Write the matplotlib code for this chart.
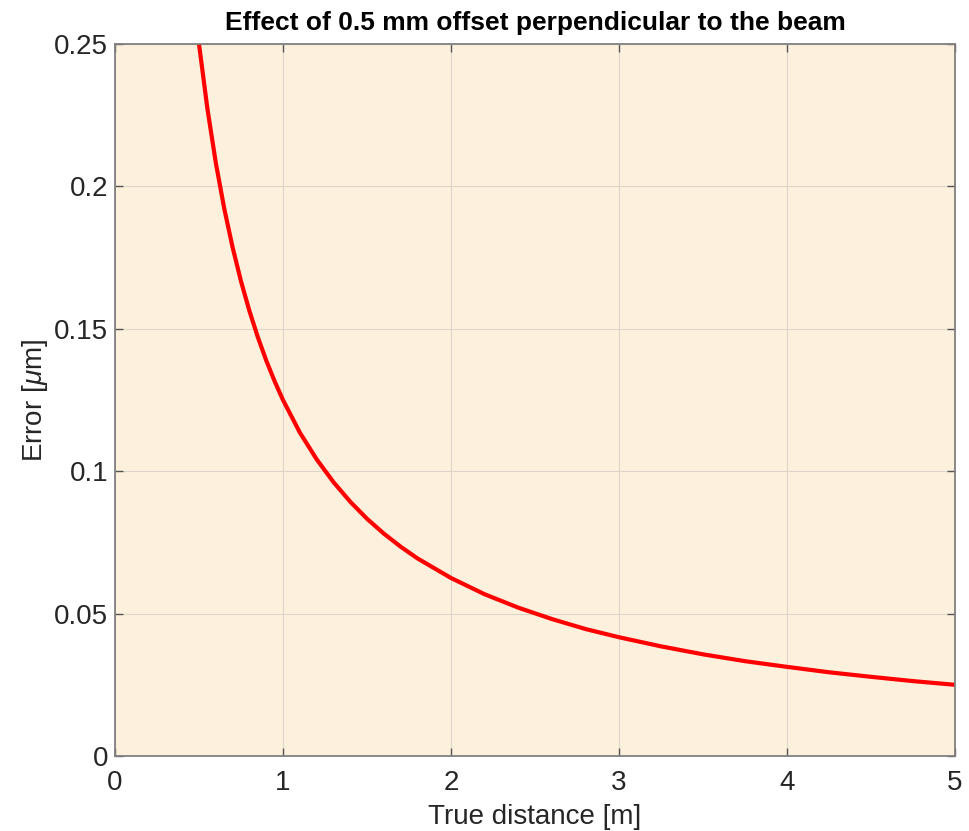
import matplotlib
matplotlib.use("Agg")
import matplotlib.pyplot as plt

plt.rcParams['font.family'] = ['Liberation Sans', 'DejaVu Sans']
plt.rcParams['mathtext.fontset'] = 'custom'
plt.rcParams['mathtext.rm'] = 'Liberation Sans'
plt.rcParams['mathtext.it'] = 'Liberation Sans:italic'

# Data
distance_m = [0.5, 0.55, 0.6, 0.65, 0.7, 0.75, 0.8, 0.85, 0.9, 0.95, 1.0,
              1.1, 1.2, 1.3, 1.4, 1.5, 1.6, 1.7, 1.8, 2.0, 2.2, 2.4, 2.6,
              2.8, 3.0, 3.25, 3.5, 3.75, 4.0, 4.25, 4.5, 4.75, 5.0]
error_um = [0.25, 0.2273, 0.2083, 0.1923, 0.1786, 0.1667, 0.1563, 0.1471,
            0.1389, 0.1316, 0.125, 0.1136, 0.1042, 0.0962, 0.0893, 0.0833,
            0.0781, 0.0735, 0.0694, 0.0625, 0.0568, 0.0521, 0.0481, 0.0446,
            0.0417, 0.0385, 0.0357, 0.0333, 0.0313, 0.0294, 0.0278, 0.0263,
            0.025]
x_ticks = [0, 1, 2, 3, 4, 5]
y_ticks = [0, 0.05, 0.1, 0.15, 0.2, 0.25]
y_ticklabels = ['0', '0.05', '0.1', '0.15', '0.2', '0.25']

fig = plt.figure(figsize=(9.69, 8.31), dpi=100)
ax = fig.add_axes([115/969, 1-756/831, (955-115)/969, (756-44)/831])
ax.set_facecolor('#FDF0DC')

ax.plot(distance_m, error_um, color='#FF0000', lw=3.0, solid_capstyle='butt', clip_on=True)

ax.set_xlim(0, 5)
ax.set_ylim(0, 0.25)
ax.set_xticks(x_ticks)
ax.set_xticklabels([str(t) for t in x_ticks])
ax.set_yticks(y_ticks)
ax.set_yticklabels(y_ticklabels)

ax.grid(True, color='#DDD5CA', lw=0.8)
ax.set_axisbelow(True)
for s in ax.spines.values():
    s.set_color('#808080')
    s.set_linewidth(1.3)

ax.tick_params(direction='in', top=True, right=True, length=6, width=1.0,
               color='#555555', labelsize=20, labelcolor='#262626', pad=5)
ax.tick_params(axis='x', pad=10)

ax.set_xlabel('True distance [m]', fontsize=20, color='#262626', labelpad=6)
ax.set_ylabel('Error [$\\mu$m]', fontsize=20, color='#262626', labelpad=3)
ax.set_title('Effect of 0.5 mm offset perpendicular to the beam', fontsize=19,
             fontweight='bold', color='black', pad=10)

fig.savefig('out.png', dpi=100)
